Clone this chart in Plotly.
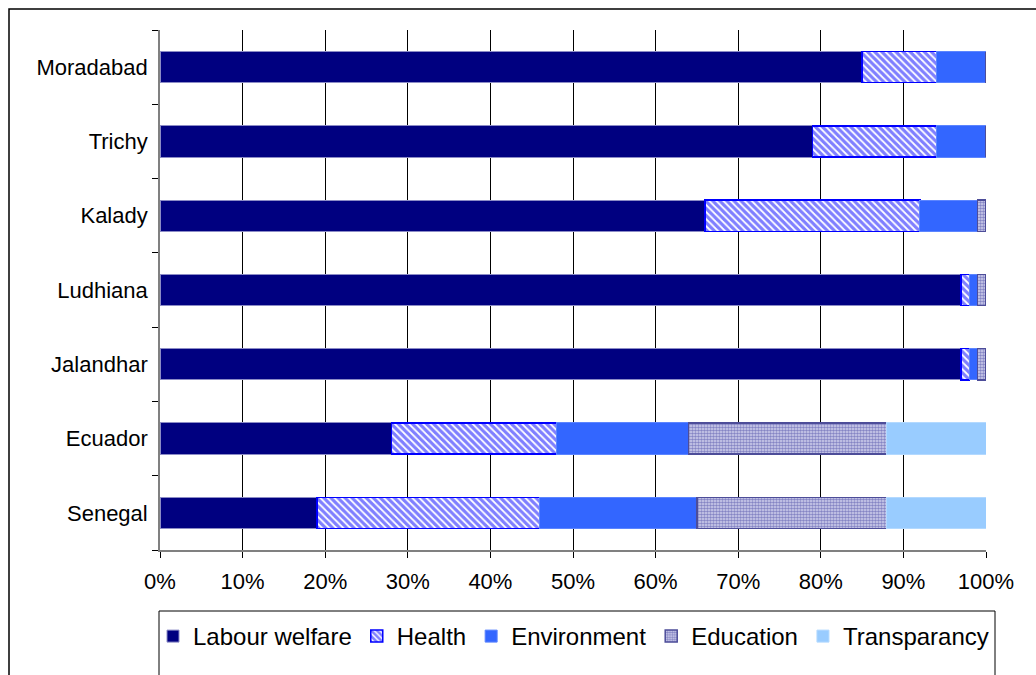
import plotly.graph_objects as go

cities = ["Moradabad", "Trichy", "Kalady", "Ludhiana", "Jalandhar", "Ecuador", "Senegal"]
labour = [0.85, 0.79, 0.66, 0.97, 0.97, 0.28, 0.19]
health = [0.09, 0.15, 0.26, 0.01, 0.01, 0.20, 0.27]
environment = [0.06, 0.06, 0.07, 0.01, 0.01, 0.16, 0.19]
education = [0.00, 0.00, 0.01, 0.01, 0.01, 0.24, 0.23]
transparancy = [0.00, 0.00, 0.00, 0.00, 0.00, 0.12, 0.12]

series = [
    ("Labour welfare", labour),
    ("Health", health),
    ("Environment", environment),
    ("Education", education),
    ("Transparancy", transparancy),
]

styles = {
    "Labour welfare": dict(color="#000080", line=dict(color="#8c8cc6", width=1)),
    "Health": dict(color="#ffffff", line=dict(color="#0000ff", width=1.5),
                   pattern=dict(shape="\\", fgcolor="#0000ff", bgcolor="#ffffff",
                                size=5, solidity=0.65, fillmode="overlay")),
    "Environment": dict(color="#3366ff", line=dict(color="#5c85ff", width=1)),
    "Education": dict(color="#ffffff", line=dict(color="#4d4d99", width=1.5),
                      pattern=dict(shape=".", fgcolor="#333399", bgcolor="#d6d6ee",
                                   size=3, solidity=0.6, fillmode="overlay")),
    "Transparancy": dict(color="#99ccff", line=dict(color="#b3d9ff", width=1)),
}

fig = go.Figure()
for name, vals in series:
    fig.add_trace(go.Bar(
        y=cities, x=vals, name=name, orientation="h",
        marker=styles[name],
    ))

L, R, T, B = 160, 50, 30, 125
W, H = 1036, 675
pw, ph = W - L - R, H - T - B

def px_x(p):
    return (p - L) / pw

def px_y(p):
    return (H - B - p) / ph

fig.update_layout(
    width=W, height=H,
    margin=dict(l=L, r=R, t=T, b=B, autoexpand=False),
    barmode="stack",
    bargap=0.58,
    paper_bgcolor="white",
    plot_bgcolor="white",
    font=dict(family="Liberation Sans, Arial, sans-serif", color="black"),
    showlegend=True,
    legend=dict(
        orientation="h", x=px_x(153), xanchor="left",
        y=px_y(614), yanchor="top",
        font=dict(size=24, family="Liberation Sans, Arial, sans-serif"),
        bgcolor="rgba(0,0,0,0)", itemwidth=30, traceorder="normal",
        itemclick=False,
    ),
    xaxis=dict(
        range=[0, 1], dtick=0.1, tickformat=".0%",
        showgrid=True, gridcolor="#000000", gridwidth=1,
        showline=True, linecolor="#808080", linewidth=1.5,
        ticks="outside", ticklen=6, tickcolor="#000000",
        ticklabelstandoff=5,
        tickfont=dict(size=22), zeroline=False, fixedrange=True,
    ),
    yaxis=dict(
        categoryorder="array", categoryarray=cities[::-1],
        showgrid=False, showline=True, linecolor="#808080", linewidth=1.5,
        ticks="outside", tickson="boundaries", ticklen=6, tickcolor="#000000",
        tickfont=dict(size=22), ticksuffix=" ", fixedrange=True,
    ),
    shapes=[
        dict(type="rect", xref="paper", yref="paper",
             x0=px_x(9), x1=px_x(1060), y0=px_y(700), y1=px_y(9),
             line=dict(color="#000000", width=1.5), fillcolor="rgba(0,0,0,0)",
             layer="below"),
        dict(type="rect", xref="paper", yref="paper",
             x0=px_x(159), x1=px_x(995), y0=px_y(700), y1=px_y(611),
             line=dict(color="#000000", width=1), fillcolor="rgba(0,0,0,0)",
             layer="below"),
    ],
)

fig.write_html(
    "out.html",
    config={"displayModeBar": False},
    post_script="document.body.style.margin='0px';document.body.style.overflow='hidden';",
)
